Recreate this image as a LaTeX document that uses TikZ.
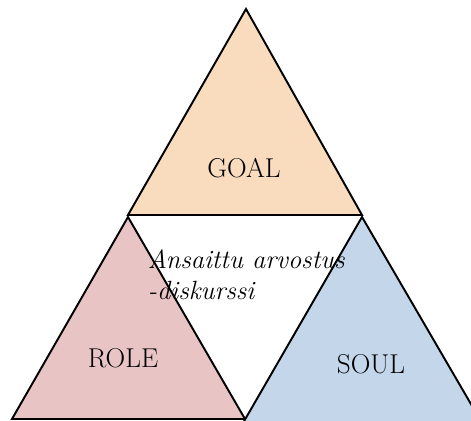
\documentclass[tikz,border=0pt]{standalone}
\usepackage{tikz}

\definecolor{goalfill}{RGB}{249,219,190}
\definecolor{rolefill}{RGB}{233,196,197}
\definecolor{soulfill}{RGB}{196,214,234}

\begin{document}
\begin{tikzpicture}[x=0.02cm, y=-0.02cm, line width=1.1pt, line join=miter,
    part/.style={draw=black},
    label/.style={font=\fontsize{15.5}{18}\selectfont, inner sep=0pt},
    talk/.style={font=\fontsize{15}{18.2}\selectfont\itshape, align=left, inner sep=0pt, anchor=base west}]
        \useasboundingbox (0,0) rectangle (471,421);
        \clip (0,0) rectangle (471,421);

        % corners of the three parts
        \coordinate (top) at (246,9);
        \coordinate (gl) at (128,215);
        \coordinate (gr) at (362,215);
        \coordinate (rl) at (12,419);
        \coordinate (mid) at (245,419);
        \coordinate (rtop) at (128,217);
        \coordinate (stop) at (362,217);
        \coordinate (sl) at (243,423);
        \coordinate (sr) at (482,423);

        \draw[part, fill=goalfill] (top) -- (gr) -- (gl) -- cycle;
        \draw[part, fill=rolefill] (rtop) -- (mid) -- (rl) -- cycle;
        \draw[part, fill=soulfill] (stop) -- (sr) -- (sl) -- cycle;

        \node[label] (goal) at (244,168) {GOAL};
        \node[label] (role) at (123,358) {ROLE};
        \node[label] (soul) at (371,364) {SOUL};
        % base anchor sits on the last line
        \node[talk] (talk) at (147,300) {Ansaittu arvostus\\-diskurssi};
    \end{tikzpicture}
\end{document}
